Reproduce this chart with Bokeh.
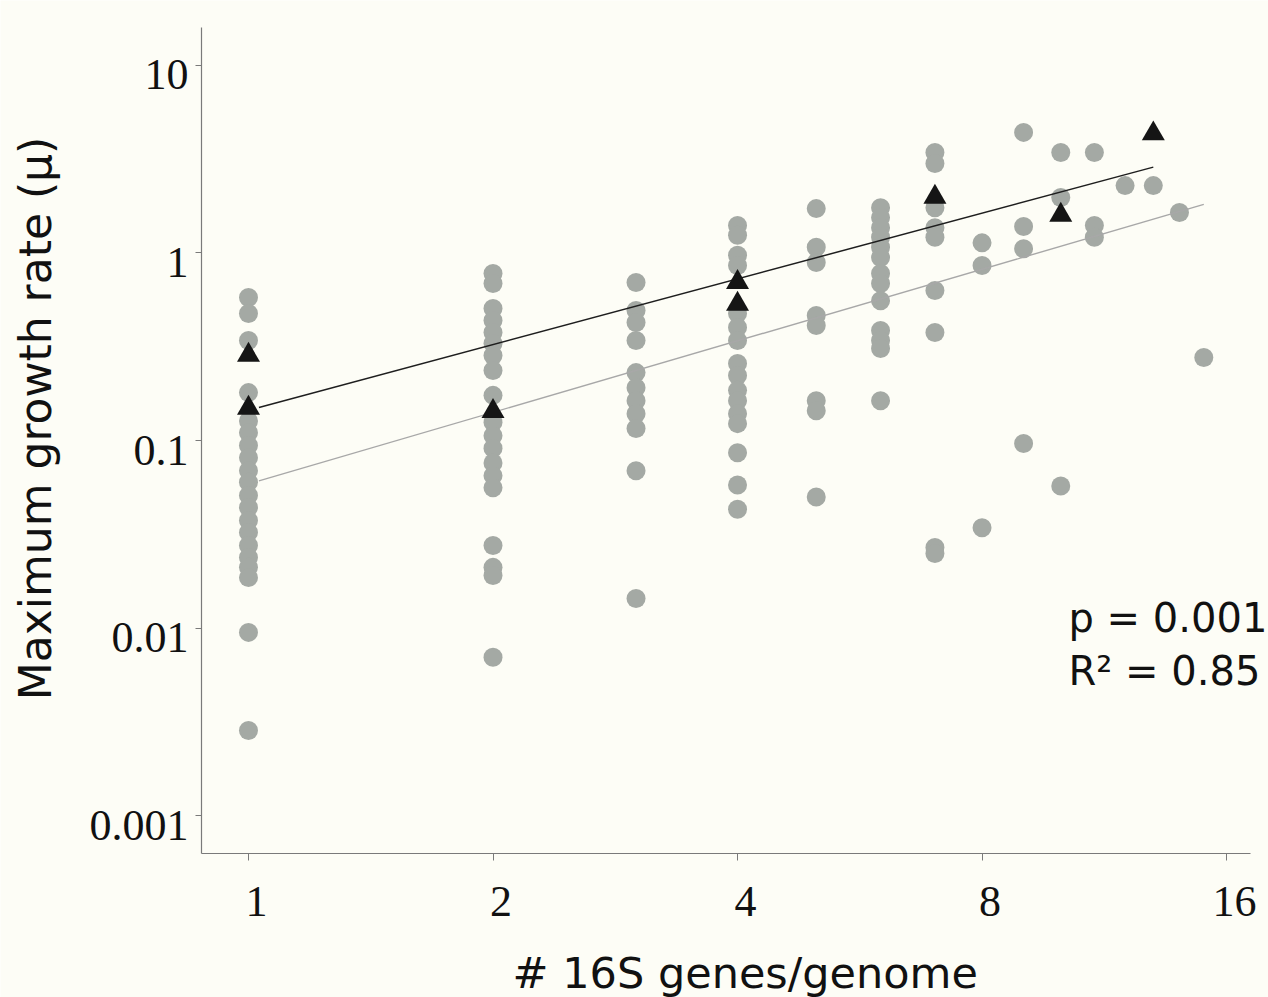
import math
from bokeh.plotting import figure
from bokeh.models import FixedTicker, Label, ColumnDataSource, LogAxis
from bokeh.embed import file_html
from bokeh.resources import INLINE

# ---------------- data ----------------
# grey circles: maximum growth rate per 16S copy number
rate_1 = [0.578, 0.475, 0.341, 0.180, 0.127, 0.110, 0.094, 0.081, 0.069, 0.060,
          0.051, 0.044, 0.0375, 0.0324, 0.0276, 0.0238, 0.0211, 0.0186, 0.0095, 0.00285]
rate_2 = [0.776, 0.686, 0.505, 0.436, 0.376, 0.329, 0.284, 0.236, 0.174, 0.125,
          0.106, 0.091, 0.076, 0.065, 0.056, 0.0276, 0.0211, 0.0191, 0.0070]
rate_3 = [0.695, 0.493, 0.425, 0.341, 0.230, 0.191, 0.163, 0.139, 0.116, 0.069, 0.0144]
rate_4 = [1.40, 1.24, 0.97, 0.856, 0.475, 0.400, 0.341, 0.257, 0.222, 0.185,
          0.163, 0.139, 0.123, 0.086, 0.058, 0.043]
rate_5 = [1.72, 1.07, 0.888, 0.463, 0.410, 0.163, 0.144, 0.050]
rate_6 = [1.74, 1.54, 1.36, 1.21, 1.07, 0.944, 0.776, 0.686, 0.556, 0.386, 0.341, 0.309, 0.163]
rate_7 = [3.42, 2.99, 1.74, 1.36, 1.21, 0.630, 0.376, 0.0269, 0.025]
rate_8 = [1.13, 0.856, 0.0343]
rate_9 = [4.38, 1.38, 1.05, 0.0965]
rate_10 = [3.42, 1.97, 0.0572]
rate_11 = [3.42, 1.40, 1.21]
rate_12 = [2.28]
rate_13 = [2.28]
rate_14 = [1.64]
rate_15 = [0.277]

circle_groups = [(1, rate_1), (2, rate_2), (3, rate_3), (4, rate_4), (5, rate_5),
                 (6, rate_6), (7, rate_7), (8, rate_8), (9, rate_9), (10, rate_10),
                 (11, rate_11), (12, rate_12), (13, rate_13), (14, rate_14), (15, rate_15)]

# black triangles
tri_copies = [1, 1, 2, 4, 4, 7, 10, 13]
tri_rate = [0.285, 0.149, 0.143, 0.697, 0.533, 1.98, 1.59, 4.31]

# regression lines (endpoints)
black_line_x = [1.03, 13]
black_line_y = [0.150, 2.86]
grey_line_x = [1.03, 15]
grey_line_y = [0.061, 1.81]

x_ticks = [1, 2, 4, 8, 16]
x_tick_labels = ["1", "2", "4", "8", "16"]
y_ticks = [0.001, 0.01, 0.1, 1, 10]
y_tick_labels = ["0.001", "0.01", "0.1", "1", "10"]

x_title = "# 16S genes/genome"
y_title = "Maximum growth rate (\u03bc)"
stat_p = "p = 0.001"
stat_r = "R\u00b2 = 0.85"

# ---------------- layout constants ----------------
BG = "#fdfdf6"
W, H = 1268, 997
X_VIEW = (0.4951, 18.02)        # frame covers the whole canvas
Y_VIEW = (0.0001078, 22.09)
X_AXIS_SPAN = (0.875, 17.13)    # drawn extent of the bottom axis
Y_AXIS_SPAN = (0.00063, 15.86)  # drawn extent of the left axis
X_LABEL_SHIFT = 1.023           # tick labels sit slightly right of their ticks
Y_LABEL_SHIFT = 0.890           # tick labels hang below their ticks
TITLE_FONT = "DejaVu Sans"
AX_COLOR = "#7a7a7a"

p = figure(width=W, height=H, x_axis_type="log", y_axis_type="log",
           x_range=X_VIEW, y_range=Y_VIEW,
           x_axis_location=None, y_axis_location=None,
           output_backend="svg", toolbar_location=None, min_border=0,
           background_fill_color=BG, border_fill_color=BG, outline_line_color=None)
p.grid.visible = False

cx, cy = [], []
for c, vals in circle_groups:
    for v in vals:
        cx.append(c)
        cy.append(v)
src = ColumnDataSource(dict(x=cx, y=cy))
p.scatter("x", "y", source=src, marker="circle", size=19, fill_color="#a4a9a4", line_color=None)

p.line(grey_line_x, grey_line_y, line_color="#a8a8a8", line_width=1.4)
p.line(black_line_x, black_line_y, line_color="#1e1e1e", line_width=1.5)

p.scatter(tri_copies, tri_rate, marker="triangle", size=23, fill_color="#151515", line_color=None)


def tick_axis(ticks, span, cross, tick_out):
    ax = LogAxis(ticker=FixedTicker(ticks=ticks, minor_ticks=[]),
                 major_label_overrides={t: "" for t in ticks},
                 major_label_text_font_size="0px", major_label_standoff=0,
                 axis_line_color=AX_COLOR, axis_line_width=1.2,
                 major_tick_line_color=AX_COLOR, major_tick_in=0, major_tick_out=tick_out,
                 minor_tick_line_color=None, bounds=span, fixed_location=cross)
    return ax


def label_axis(ticks, labels, cross, standoff):
    ax = LogAxis(ticker=FixedTicker(ticks=ticks, minor_ticks=[]),
                 major_label_overrides={t: l for t, l in zip(ticks, labels)},
                 axis_line_color=None, major_tick_line_color=None, minor_tick_line_color=None,
                 major_tick_in=0, major_tick_out=0, major_label_standoff=standoff,
                 major_label_text_font="Liberation Serif", major_label_text_font_size="44px",
                 major_label_text_color="#111111", fixed_location=cross)
    return ax


p.add_layout(tick_axis(x_ticks, X_AXIS_SPAN, Y_AXIS_SPAN[0], 7), "below")
p.add_layout(tick_axis(y_ticks, Y_AXIS_SPAN, X_AXIS_SPAN[0], 6), "left")
p.add_layout(label_axis([t * X_LABEL_SHIFT for t in x_ticks], x_tick_labels, Y_AXIS_SPAN[0], 33), "below")
p.add_layout(label_axis([t * Y_LABEL_SHIFT for t in y_ticks], y_tick_labels, X_AXIS_SPAN[0], 13), "left")

# titles and statistics (screen units from the bottom-left of the canvas)
p.add_layout(Label(x=512, y=H - 972, x_units="screen", y_units="screen",
                   text=x_title, text_font=TITLE_FONT, text_font_size="43px",
                   text_align="left", text_baseline="alphabetic", text_color="#111111"))
p.add_layout(Label(x=35, y=H - 418, x_units="screen", y_units="screen", angle=math.pi / 2,
                   text=y_title, text_font=TITLE_FONT, text_font_size="44px",
                   text_align="center", text_baseline="middle", text_color="#111111"))
for txt, base in ((stat_p, 617), (stat_r, 670)):
    p.add_layout(Label(x=1068, y=H - base, x_units="screen", y_units="screen",
                       text=txt, text_font=TITLE_FONT, text_font_size="40px",
                       text_align="left", text_baseline="alphabetic", text_color="#111111"))

open("out.html", "w").write(file_html(p, INLINE))
